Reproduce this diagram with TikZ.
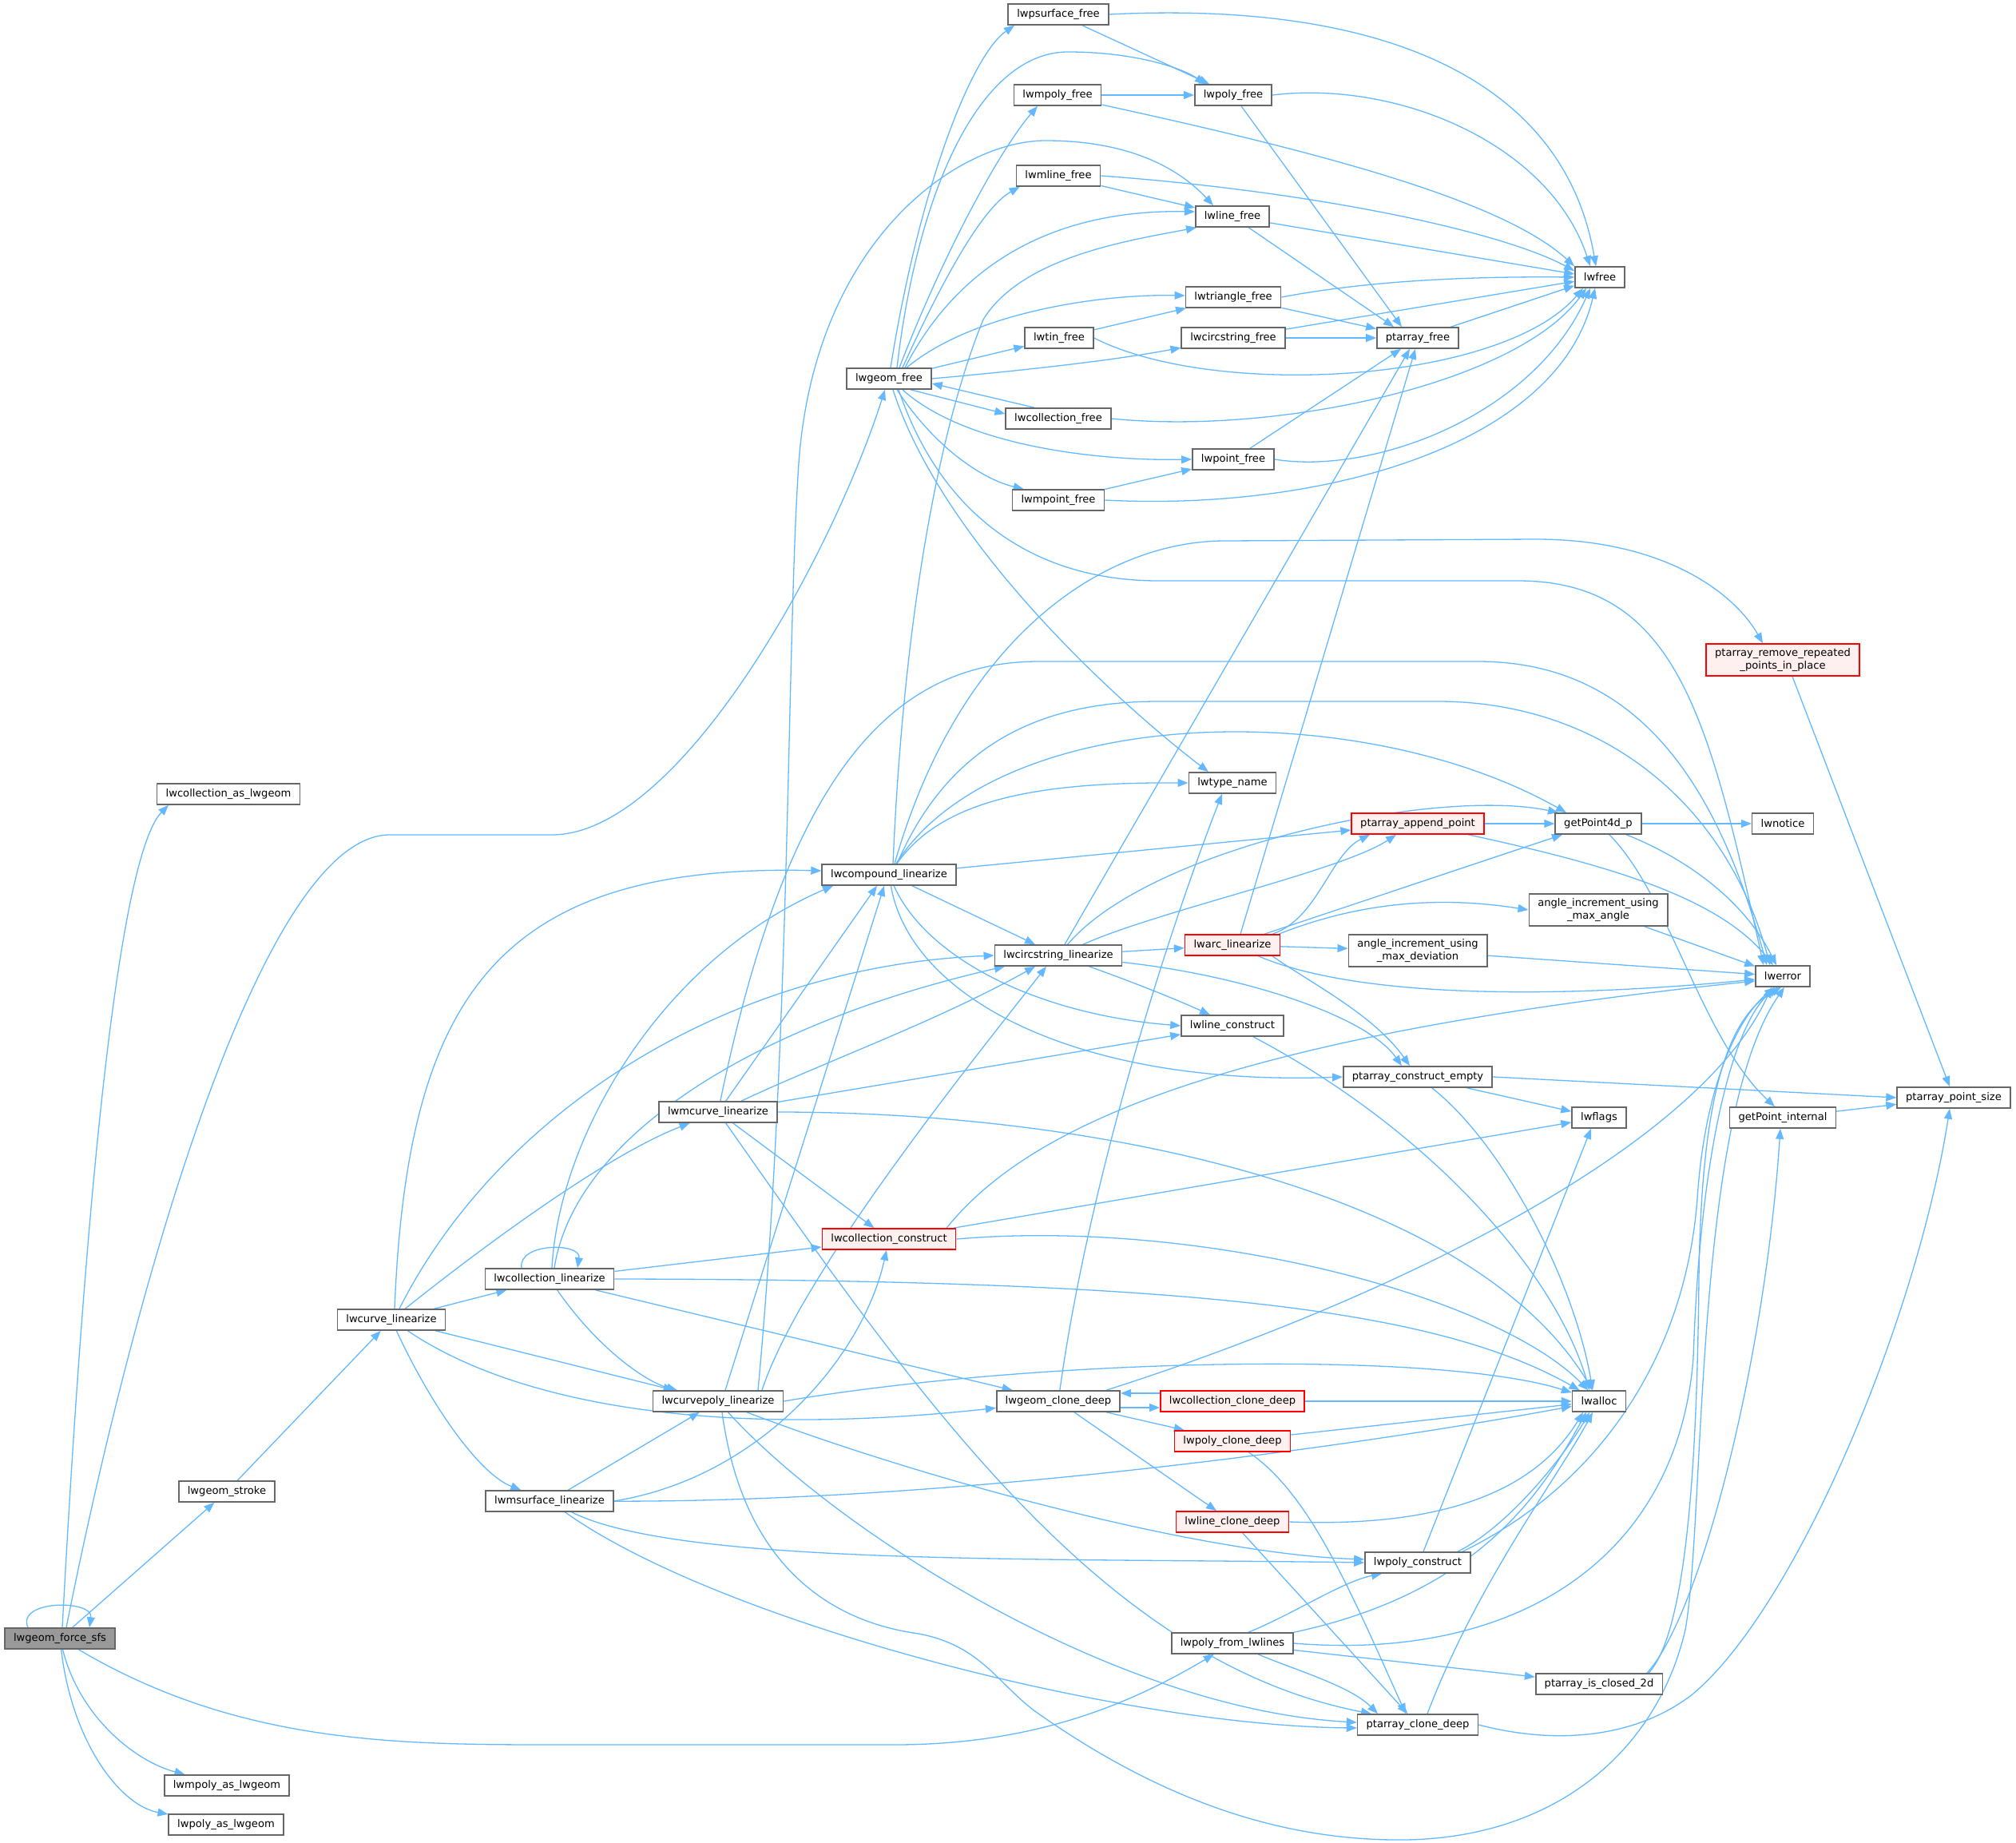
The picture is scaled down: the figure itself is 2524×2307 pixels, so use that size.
\documentclass[tikz,border=0pt]{standalone}
\usepackage{fontspec}
\setmainfont{DejaVu Sans}
\usetikzlibrary{arrows.meta,calc}
\definecolor{edgec}{HTML}{63B8FF}
\definecolor{nodeb}{HTML}{666666}
\definecolor{redfill}{HTML}{FFF0F0}
\definecolor{grayfill}{HTML}{999999}
\pgfdeclarelayer{bg}
\pgfsetlayers{bg,main}
\begin{document}
\begin{tikzpicture}[x=0.5pt,y=-0.5pt,
  fn/.style={draw=nodeb, fill=white, line width=0.8pt, inner xsep=5.5pt, inner ysep=0pt, minimum height=13pt, font=\fontsize{6.55}{7.6}\selectfont, align=center},
  rn/.style={fn, draw=red, fill=redfill},
  gn/.style={fn, fill=grayfill},
  tall/.style={minimum height=20pt},
  ed/.style={draw=edgec, line width=0.65pt, -{Triangle[length=6.5pt,width=5pt]}}]
\useasboundingbox (0,0) rectangle (2524,2307);
% nodes
\node[gn] (force) at (75,2051) {lwgeom\_force\_sfs};
\node[fn] (colasl) at (286,994) {lwcollection\_as\_lwgeom};
\node[fn] (stroke) at (284,1867) {lwgeom\_stroke};
\node[fn] (mpolyas) at (284,2235) {lwmpoly\_as\_lwgeom};
\node[fn] (polyas) at (283,2284) {lwpoly\_as\_lwgeom};
\node[fn] (curvelin) at (490,1652) {lwcurve\_linearize};
\node[fn] (collin) at (688,1601) {lwcollection\_linearize};
\node[fn] (msurf) at (688,1879) {lwmsurface\_linearize};
\node[fn] (mcurve) at (899,1392) {lwmcurve\_linearize};
\node[fn] (cpoly) at (899,1754) {lwcurvepoly\_linearize};
\node[fn] (gfree) at (1113,474) {lwgeom\_free};
\node[fn] (compound) at (1113,1095) {lwcompound\_linearize};
\node[rn] (colcons) at (1113,1551) {lwcollection\_construct};
\node[fn] (psurf) at (1325,18) {lwpsurface\_free};
\node[fn] (mpolyf) at (1324,119) {lwmpoly\_free};
\node[fn] (mlinef) at (1325,220) {lwmline\_free};
\node[fn] (tinf) at (1326,423) {lwtin\_free};
\node[fn] (colfree) at (1325,524) {lwcollection\_free};
\node[fn] (mpointf) at (1325,626) {lwmpoint\_free};
\node[fn] (circlin) at (1325,1196) {lwcircstring\_linearize};
\node[fn] (clone) at (1325,1754) {lwgeom\_clone\_deep};
\node[fn] (polyf) at (1544,119) {lwpoly\_free};
\node[fn] (linef) at (1543,271) {lwline\_free};
\node[fn] (trif) at (1544,372) {lwtriangle\_free};
\node[fn] (circf) at (1544,423) {lwcircstring\_free};
\node[fn] (pointf) at (1544,575) {lwpoint\_free};
\node[fn] (typename) at (1543,980) {lwtype\_name};
\node[rn] (arc) at (1543,1183) {lwarc\_linearize};
\node[fn] (linecons) at (1543,1284) {lwline\_construct};
\node[rn] (colclone) at (1543,1754) {lwcollection\_clone\_deep};
\node[rn] (polyclone) at (1543,1804) {lwpoly\_clone\_deep};
\node[rn] (lineclone) at (1543,1905) {lwline\_clone\_deep};
\node[fn] (fromlines) at (1543,2057) {lwpoly\_from\_lwlines};
\node[fn] (ptfree) at (1775,423) {ptarray\_free};
\node[rn] (append) at (1775,1031) {ptarray\_append\_point};
\node[fn,tall] (maxdev) at (1775,1190) {angle\_increment\_using\\\_max\_deviation};
\node[fn] (ptempty) at (1775,1348) {ptarray\_construct\_empty};
\node[fn] (polycons) at (1775,1956) {lwpoly\_construct};
\node[fn] (ptclone) at (1775,2159) {ptarray\_clone\_deep};
\node[fn] (lwfree) at (2003,347) {lwfree};
\node[fn] (gp4d) at (2001,1031) {getPoint4d\_p};
\node[fn,tall] (maxang) at (2001,1139) {angle\_increment\_using\\\_max\_angle};
\node[fn] (lwflags) at (2002,1399) {lwflags};
\node[fn] (lwalloc) at (2002,1754) {lwalloc};
\node[fn] (closed) at (2002,2108) {ptarray\_is\_closed\_2d};
\node[rn,tall] (remrep) at (2232,826) {ptarray\_remove\_repeated\\\_points\_in\_place};
\node[fn] (lwnotice) at (2232,1031) {lwnotice};
\node[fn] (lwerror) at (2232,1222) {lwerror};
\node[fn] (gpint) at (2232,1399) {getPoint\_internal};
\node[fn] (ptsize) at (2446,1374) {ptarray\_point\_size};

\begin{pgfonlayer}{bg}
% lwgeom_force_sfs
\draw[ed] ($(force.north)+(-40,0)$) .. controls +(-15,-35) and +(5,-35) .. ($(force.north)+(37,0)$);
\draw[ed] ($(force.north)+(3,0)$) .. controls (115,1350) and (160,1060) .. ($(colasl.south)+(-75,0)$);
\draw[ed] ($(force.north)+(8,0)$) .. controls (170,1600) and (330,1045) .. (488,1045) -- (691,1045) .. controls (850,1045) and (1040,700) .. ($(gfree.south)+(-5,0)$);
\draw[ed] (force) -- (stroke);
\draw[ed] (force) .. controls (100,2150) and (170,2205) .. (mpolyas);
\draw[ed] (force) .. controls (90,2180) and (150,2260) .. (polyas);
\draw[ed] (force) .. controls (300,2184) and (500,2184) .. (700,2184) -- (1120,2184) .. controls (1300,2184) and (1420,2130) .. (fromlines);
\draw[ed] (stroke) -- (curvelin);
% lwcurve_linearize
\draw[ed] (curvelin) -- (collin);
\draw[ed] (curvelin) -- (cpoly);
\draw[ed] (curvelin) .. controls (540,1760) and (600,1845) .. (msurf);
\draw[ed] (curvelin) .. controls (580,1580) and (750,1450) .. (mcurve);
\draw[ed] ($(curvelin.north)+(4,0)$) .. controls (510,1250) and (620,1080) .. ($(compound.west)+(0,-5)$);
\draw[ed] ($(curvelin.north)+(10,0)$) .. controls (620,1400) and (900,1210) .. (circlin.west);
\draw[ed] (curvelin) .. controls (650,1760) and (900,1800) .. (clone);
% lwcollection_linearize
\draw[ed] ($(collin.north)+(-35,0)$) .. controls +(-5,-32) and +(5,-32) .. ($(collin.north)+(35,0)$);
\draw[ed] (collin) -- (colcons);
\draw[ed] (collin.east) .. controls (1500,1602) and (1800,1640) .. (lwalloc);
\draw[ed] (collin) -- (clone);
\draw[ed] (collin) .. controls (750,1690) and (810,1730) .. (cpoly);
\draw[ed] ($(collin.north)+(3,0)$) .. controls (700,1420) and (830,1200) .. ($(compound.south)+(-70,0)$);
\draw[ed] ($(collin.north)+(6,0)$) .. controls (720,1420) and (950,1280) .. ($(circlin.south)+(-67,0)$);
% lwmsurface_linearize
\draw[ed] (msurf) -- (cpoly);
\draw[ed] (msurf.east) .. controls (950,1850) and (1080,1700) .. (colcons);
\draw[ed] (msurf) .. controls (1200,1880) and (1700,1810) .. (lwalloc);
\draw[ed] (msurf) .. controls (850,1960) and (1300,1950) .. (polycons.west);
\draw[ed] (msurf) .. controls (900,2030) and (1400,2160) .. ($(ptclone.west)+(0,4)$);
% lwmcurve_linearize
\draw[ed] (mcurve) -- ($(compound.south)+(-15,0)$);
\draw[ed] (mcurve) .. controls (1030,1330) and (1170,1280) .. ($(circlin.south)+(-29,0)$);
\draw[ed] (mcurve) -- (linecons);
\draw[ed] (mcurve) -- (colcons);
\draw[ed] (mcurve) .. controls (1150,1750) and (1380,2080) .. ($(ptclone.north)+(-58,0)$);
\draw[ed] (mcurve.east) .. controls (1400,1392) and (1850,1500) .. (lwalloc);
\draw[ed] (mcurve) .. controls (980,1000) and (1100,828) .. (1300,828) -- (1850,828) .. controls (2050,828) and (2150,980) .. ($(lwerror.north)+(-20,0)$);
% lwcurvepoly_linearize
\draw[ed] ($(cpoly.north)+(9,0)$) -- ($(compound.south)+(-6,0)$);
\draw[ed] ($(cpoly.north)+(55,0)$) .. controls (1000,1600) and (1200,1350) .. ($(circlin.south)+(-15,0)$);
\draw[ed] ($(cpoly.north)+(50,0)$) .. controls (990,1300) and (985,800) .. (1000,580) .. controls (1020,300) and (1200,176) .. (1309,176) .. controls (1420,176) and (1480,215) .. ($(linef.north)+(-24,0)$);
\draw[ed] (cpoly.east) .. controls (1300,1700) and (1800,1690) .. (lwalloc);
\draw[ed] (cpoly) .. controls (1150,1850) and (1500,1945) .. ($(polycons.west)+(0,-4)$);
\draw[ed] (cpoly) .. controls (1050,1920) and (1400,2140) .. ($(ptclone.west)+(0,-3)$);
\draw[ed] ($(cpoly.south)+(5,0)$) .. controls (930,1960) and (1040,2030) .. (1150,2045) .. controls (1230,2060) and (1250,2110) .. (1300,2145) .. controls (1450,2250) and (1600,2305) .. (1760,2303) .. controls (1950,2300) and (2075,2190) .. (2110,2040) .. controls (2135,1900) and (2120,1400) .. ($(lwerror.south)+(2,0)$);
% lwcompound_linearize
\draw[ed] (compound) -- (circlin);
\draw[ed] (compound) -- (append);
\draw[ed] (compound) .. controls (1180,1000) and (1300,979) .. (typename.west);
\draw[ed] (compound) .. controls (1250,880) and (1700,870) .. ($(gp4d.north)+(-40,0)$);
\draw[ed] ($(compound.north)+(10,0)$) .. controls (1180,950) and (1280,878) .. (1450,878) -- (1800,878) .. controls (2000,878) and (2160,1000) .. ($(lwerror.north)+(-16,0)$);
\draw[ed] ($(compound.north)+(7,0)$) .. controls (1200,800) and (1380,677) .. (1534,677) -- (1923,675) .. controls (2080,675) and (2170,740) .. ($(remrep.north)+(-25,0)$);
\draw[ed] ($(compound.north)+(5,0)$) .. controls (1130,800) and (1170,550) .. (1231,400) .. controls (1280,320) and (1420,300) .. ($(linef.south)+(-45,0)$);
\draw[ed] (compound) .. controls (1160,1200) and (1300,1270) .. (linecons.west);
\draw[ed] (compound) .. controls (1140,1250) and (1350,1360) .. (ptempty.west);
% lwcircstring_linearize
\draw[ed] (circlin) -- (arc);
\draw[ed] ($(circlin.north)+(8,0)$) -- ($(ptfree.south)+(-10,0)$);
\draw[ed] (circlin) .. controls (1440,1060) and (1800,985) .. ($(gp4d.north)+(-50,0)$);
\draw[ed] (circlin) .. controls (1450,1140) and (1680,1090) .. ($(append.south)+(-27,0)$);
\draw[ed] (circlin) .. controls (1420,1230) and (1470,1250) .. ($(linecons.north)+(-28,0)$);
\draw[ed] (circlin) .. controls (1550,1220) and (1710,1270) .. ($(ptempty.north)+(-20,0)$);
% lwarc_linearize
\draw[ed] ($(arc.north)+(10,0)$) -- ($(ptfree.south)+(-3,0)$);
\draw[ed] ($(arc.north)+(50,0)$) .. controls (1650,1150) and (1665,1070) .. ($(append.south)+(-60,0)$);
\draw[ed] ($(arc.north)+(40,0)$) -- ($(gp4d.south)+(-45,0)$);
\draw[ed] ($(arc.north)+(58,0)$) .. controls (1700,1130) and (1800,1121) .. (maxang.west);
\draw[ed] (arc) -- (maxdev);
\draw[ed] (arc) .. controls (1700,1250) and (1950,1250) .. ($(lwerror.west)+(0,4)$);
\draw[ed] ($(arc.south)+(50,0)$) .. controls (1640,1230) and (1720,1270) .. ($(ptempty.north)+(-10,0)$);
% lwgeom_free
\draw[ed] ($(gfree.north)+(2,0)$) .. controls (1150,240) and (1215,70) .. ($(psurf.south)+(-55,0)$);
\draw[ed] ($(gfree.north)+(10,0)$) .. controls (1150,230) and (1230,65) .. (1337,65) .. controls (1420,65) and (1480,85) .. ($(polyf.north)+(-35,0)$);
\draw[ed] ($(gfree.north)+(13,0)$) .. controls (1180,320) and (1250,190) .. ($(mpolyf.south)+(-25,0)$);
\draw[ed] ($(gfree.north)+(17,0)$) .. controls (1180,350) and (1230,260) .. ($(mlinef.south west)+(5,0)$);
\draw[ed] ($(gfree.north)+(20,0)$) .. controls (1200,330) and (1320,262) .. ($(linef.west)+(0,-6)$);
\draw[ed] ($(gfree.north)+(22,0)$) .. controls (1220,390) and (1380,368) .. ($(trif.west)+(0,-2)$);
\draw[ed] (gfree) -- (tinf);
\draw[ed] (gfree.east) .. controls (1300,462) and (1400,450) .. (circf);
\draw[ed] ($(gfree.south)+(27,0)$) -- ($(colfree.west)+(0,-6)$);
\draw[ed] ($(colfree.north)+(-30,0)$) -- ($(gfree.east)+(0,6)$);
\draw[ed] ($(gfree.south)+(17,0)$) .. controls (1210,560) and (1380,577) .. (pointf.west);
\draw[ed] ($(gfree.south)+(10,0)$) .. controls (1170,560) and (1230,600) .. ($(mpointf.north west)+(15,0)$);
\draw[ed] ($(gfree.south)+(5,0)$) .. controls (1180,680) and (1400,880) .. ($(typename.north)+(-30,0)$);
\draw[ed] ($(gfree.south)+(12,0)$) .. controls (1180,650) and (1300,727) .. (1450,727) -- (1900,727) .. controls (2100,727) and (2140,900) .. ($(lwerror.north)+(-24,0)$);
% free functions
\draw[ed] (psurf.east) .. controls (1750,0) and (1960,110) .. ($(lwfree.north)+(-5,0)$);
\draw[ed] (psurf) -- (polyf);
\draw[ed] (mpolyf) -- (polyf);
\draw[ed] (mpolyf) .. controls (1650,190) and (1880,250) .. (lwfree.north west);
\draw[ed] (polyf.east) .. controls (1750,100) and (1940,180) .. ($(lwfree.north)+(-12,0)$);
\draw[ed] (polyf) -- ($(ptfree.north)+(-20,0)$);
\draw[ed] (mlinef) -- (linef);
\draw[ed] (mlinef.east) .. controls (1650,240) and (1880,290) .. ($(lwfree.west)+(0,-8)$);
\draw[ed] (linef) -- ($(ptfree.north)+(-30,0)$);
\draw[ed] (linef) -- ($(lwfree.west)+(0,-4)$);
\draw[ed] (trif.east) .. controls (1720,350) and (1850,346) .. (lwfree.west);
\draw[ed] (trif) -- (ptfree);
\draw[ed] (tinf) -- (trif);
\draw[ed] (tinf.east) .. controls (1520,500) and (1880,480) .. ($(lwfree.south)+(-21,0)$);
\draw[ed] (circf) -- (ptfree);
\draw[ed] (circf) -- (lwfree);
\draw[ed] (ptfree) -- (lwfree);
\draw[ed] (colfree.east) .. controls (1600,545) and (1900,480) .. ($(lwfree.south)+(-17,0)$);
\draw[ed] (pointf.east) .. controls (1720,595) and (1920,520) .. ($(lwfree.south)+(-12,0)$);
\draw[ed] (pointf) -- ($(ptfree.south)+(-21,0)$);
\draw[ed] (mpointf) -- (pointf);
\draw[ed] (mpointf.east) .. controls (1650,640) and (1950,560) .. ($(lwfree.south)+(-6,0)$);
% right side
\draw[ed] (append) -- (gp4d);
\draw[ed] (append) .. controls (2000,1080) and (2150,1120) .. ($(lwerror.north)+(-12,0)$);
\draw[ed] (gp4d) -- (lwnotice);
\draw[ed] (gp4d) .. controls (2100,1070) and (2180,1120) .. ($(lwerror.north)+(-8,0)$);
\draw[ed] (gp4d) .. controls (2090,1120) and (2130,1300) .. ($(gpint.north)+(-10,0)$);
\draw[ed] (maxang) -- (lwerror);
\draw[ed] (maxdev) -- (lwerror);
\draw[ed] ($(remrep.south)+(12,0)$) -- ($(ptsize.north)+(-5,0)$);
\draw[ed] (ptempty) -- (lwflags);
\draw[ed] (ptempty.east) -- (ptsize.west);
\draw[ed] (ptempty) .. controls (1880,1430) and (1970,1600) .. ($(lwalloc.north)+(-8,0)$);
\draw[ed] (gpint) -- (ptsize);
\draw[ed] (linecons) .. controls (1800,1420) and (1950,1600) .. ($(lwalloc.north)+(-12,0)$);
% lwcollection_construct
\draw[ed] (colcons) -- (lwflags);
\draw[ed] (colcons.east) .. controls (1500,1525) and (1870,1620) .. (lwalloc);
\draw[ed] ($(colcons.north)+(72,0)$) .. controls (1280,1420) and (1500,1300) .. ($(lwerror.west)+(0,6)$);
% clone
\draw[ed] (clone) .. controls (1360,1500) and (1450,1200) .. ($(typename.south)+(-13,0)$);
\draw[ed] ($(clone.east)+(0,8)$) -- ($(colclone.west)+(0,8)$);
\draw[ed] ($(colclone.west)+(0,-10)$) -- ($(clone.east)+(0,-10)$);
\draw[ed] (clone) -- (polyclone);
\draw[ed] (clone) -- (lineclone);
\draw[ed] ($(clone.north)+(60,0)$) .. controls (1700,1640) and (2120,1450) .. ($(lwerror.south)+(-14,0)$);
\draw[ed] (colclone) -- (lwalloc);
\draw[ed] (polyclone) -- (lwalloc);
\draw[ed] (polyclone) .. controls (1640,1870) and (1690,1990) .. ($(ptclone.north)+(-15,0)$);
\draw[ed] (lineclone.east) .. controls (1800,1912) and (1920,1870) .. ($(lwalloc.south)+(-20,0)$);
\draw[ed] (lineclone) -- (ptclone);
% lwpoly_construct
\draw[ed] ($(polycons.north)+(7,0)$) -- ($(lwflags.south)+(-10,0)$);
\draw[ed] ($(polycons.north)+(50,0)$) .. controls (1890,1910) and (1960,1820) .. ($(lwalloc.south)+(-12,0)$);
\draw[ed] ($(polycons.north)+(56,0)$) .. controls (2000,1860) and (2110,1700) .. (2125,1500) .. controls (2135,1350) and (2180,1270) .. ($(lwerror.south)+(-10,0)$);
% lwpoly_from_lwlines
\draw[ed] ($(fromlines.north)+(20,0)$) .. controls (1620,2020) and (1680,1980) .. ($(polycons.south)+(-45,0)$);
\draw[ed] (fromlines.north east) .. controls (1850,1994) and (1930,1870) .. ($(lwalloc.south)+(-16,0)$);
\draw[ed] (fromlines.east) .. controls (1900,2080) and (2100,1950) .. (2120,1700) .. controls (2130,1400) and (2180,1270) .. ($(lwerror.south)+(-6,0)$);
\draw[ed] (fromlines) -- (closed);
\draw[ed] (fromlines) .. controls (1620,2090) and (1690,2110) .. ($(ptclone.north)+(-50,0)$);
% ptarray_is_closed_2d
\draw[ed] ($(closed.north)+(60,0)$) .. controls (2130,2020) and (2210,1700) .. ($(gpint.south)+(-3,0)$);
\draw[ed] ($(closed.north)+(62,0)$) .. controls (2115,2040) and (2125,1800) .. (2127,1600) .. controls (2130,1350) and (2170,1270) .. ($(lwerror.south)+(-2,0)$);
% ptarray_clone_deep
\draw[ed] ($(ptclone.north)+(12,0)$) .. controls (1850,1980) and (1950,1850) .. ($(lwalloc.south)+(-8,0)$);
\draw[ed] (ptclone.east) .. controls (1950,2185) and (2050,2175) .. (2120,2120) .. controls (2250,2010) and (2400,1650) .. ($(ptsize.south)+(-5,0)$);
\end{pgfonlayer}
\end{tikzpicture}
\end{document}
